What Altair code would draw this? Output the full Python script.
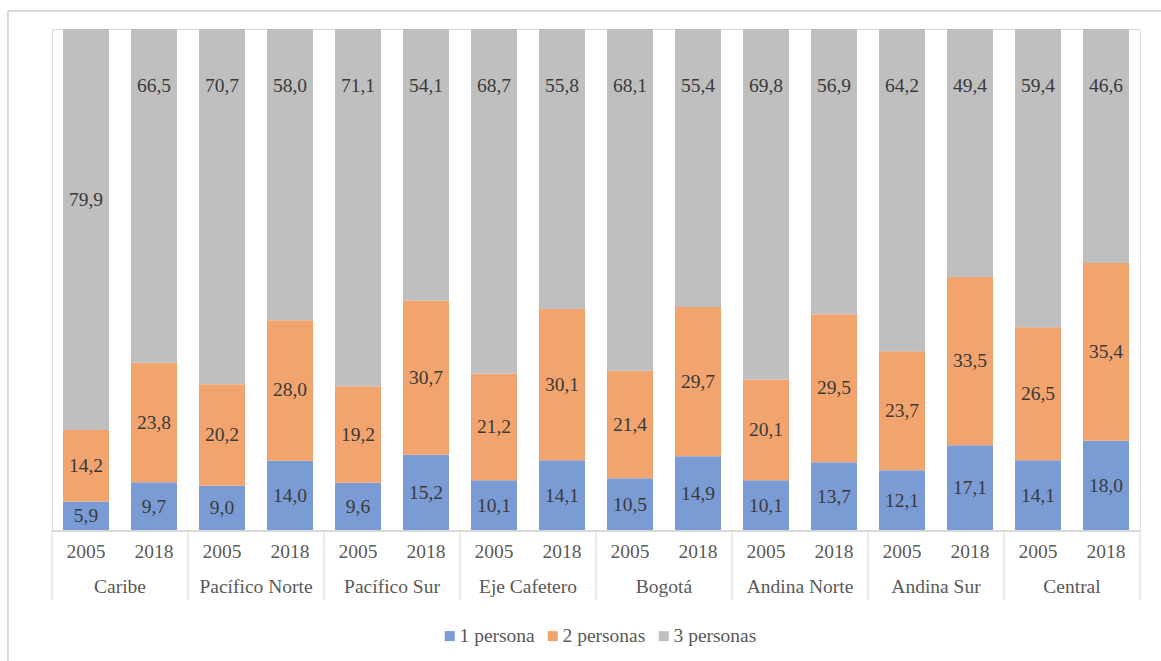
import altair as alt
import pandas as pd

regions = ["Caribe", "Pacífico Norte", "Pacífico Sur", "Eje Cafetero",
           "Bogotá", "Andina Norte", "Andina Sur", "Central"]
years = ["2005", "2018"]
series = ["1 persona", "2 personas", "3 personas"]
p1 = [5.9, 9.7, 9.0, 14.0, 9.6, 15.2, 10.1, 14.1, 10.5, 14.9, 10.1, 13.7, 12.1, 17.1, 14.1, 18.0]
p2 = [14.2, 23.8, 20.2, 28.0, 19.2, 30.7, 21.2, 30.1, 21.4, 29.7, 20.1, 29.5, 23.7, 33.5, 26.5, 35.4]
p3 = [79.9, 66.5, 70.7, 58.0, 71.1, 54.1, 68.7, 55.8, 68.1, 55.4, 69.8, 56.9, 64.2, 49.4, 59.4, 46.6]
# where the "3 personas" labels sit in the reference (percent of bar height)
grey_label_pct = [65.9] + [88.6] * 15

colors = ["#7b9bd5", "#f1a46d", "#bfbfbf"]
FONT = "Liberation Serif, Times New Roman, DejaVu Serif, serif"
FS = 19.5

rows = []
for i in range(16):
    for k, vals in enumerate([p1, p2, p3]):
        rows.append(dict(pos=i + 0.5, region=regions[i // 2], year=years[i % 2],
                         serie=series[k], order=k, value=vals[i],
                         label=f"{vals[i]:.1f}".replace(".", ","),
                         greylab=grey_label_pct[i]))
df = pd.DataFrame(rows)

reg_df = pd.DataFrame({"region": regions, "c": [2 * g + 1 for g in range(len(regions))]})
sep_df = pd.DataFrame({"b": [2 * g for g in range(len(regions) + 1)]})

xscale = alt.Scale(domain=[0, 16], nice=False, zero=False, padding=0)
yscale = alt.Scale(domain=[0, 1], nice=False)

base = alt.Chart(df)

bars = base.mark_bar(size=46).encode(
    x=alt.X("pos:Q", scale=xscale, axis=None),
    y=alt.Y("value:Q", stack="normalize", axis=None, scale=yscale),
    color=alt.Color("serie:N", scale=alt.Scale(domain=series, range=colors),
                    legend=alt.Legend(title=None, orient="none", legendX=388, legendY=597,
                                      direction="horizontal", symbolType="square",
                                      symbolSize=100, symbolStrokeWidth=0,
                                      labelFont=FONT, labelFontSize=FS, labelColor="#595959",
                                      columnPadding=8, labelOffset=0)),
    order=alt.Order("order:Q", sort="ascending"),
)

labels = base.transform_stack(
    stack="value", groupby=["pos"], as_=["y0", "y1"], offset="normalize",
    sort=[alt.SortField("order", "ascending")]
).transform_calculate(
    mid="datum.order == 2 ? datum.greylab / 100 : (datum.y0 + datum.y1) / 2"
).mark_text(font=FONT, fontSize=FS, color="#3a3a3a").encode(
    x=alt.X("pos:Q", scale=xscale),
    y=alt.Y("mid:Q", scale=yscale),
    text="label:N",
)

year_text = base.transform_filter("datum.order == 0").mark_text(
    font=FONT, fontSize=FS, color="#595959"
).encode(x=alt.X("pos:Q", scale=xscale), y=alt.value(523), text="year:N")

region_text = alt.Chart(reg_df).mark_text(
    font=FONT, fontSize=FS, color="#595959"
).encode(x=alt.X("c:Q", scale=xscale), y=alt.value(558), text="region:N")

seps = alt.Chart(sep_df).mark_rule(color="#d9d9d9", strokeWidth=1).encode(
    x=alt.X("b:Q", scale=xscale), y=alt.value(502), y2=alt.value(571)
)

baseline = alt.Chart(sep_df).mark_rule(color="#d9d9d9", strokeWidth=1).encode(
    x=alt.value(0), x2=alt.value(1088), y=alt.value(502)
)

frame_top = alt.Chart(sep_df).mark_rule(color="#d9d9d9", strokeWidth=1).encode(
    x=alt.value(-44), x2=alt.value(1109), y=alt.value(-18)
)
frame_left = alt.Chart(sep_df).mark_rule(color="#d9d9d9", strokeWidth=1).encode(
    x=alt.value(-44), y=alt.value(-18), y2=alt.value(632)
)

chart = alt.layer(
    frame_top, frame_left, bars, labels, baseline, seps, year_text, region_text
).properties(
    width=1088, height=502,
    autosize=alt.AutoSizeParams(type="none"),
    padding={"left": 52, "top": 29, "right": 21, "bottom": 130},
).configure_view(stroke=None).configure(background="white")

chart.save("out.html", embed_options={"renderer": "svg", "actions": False})
